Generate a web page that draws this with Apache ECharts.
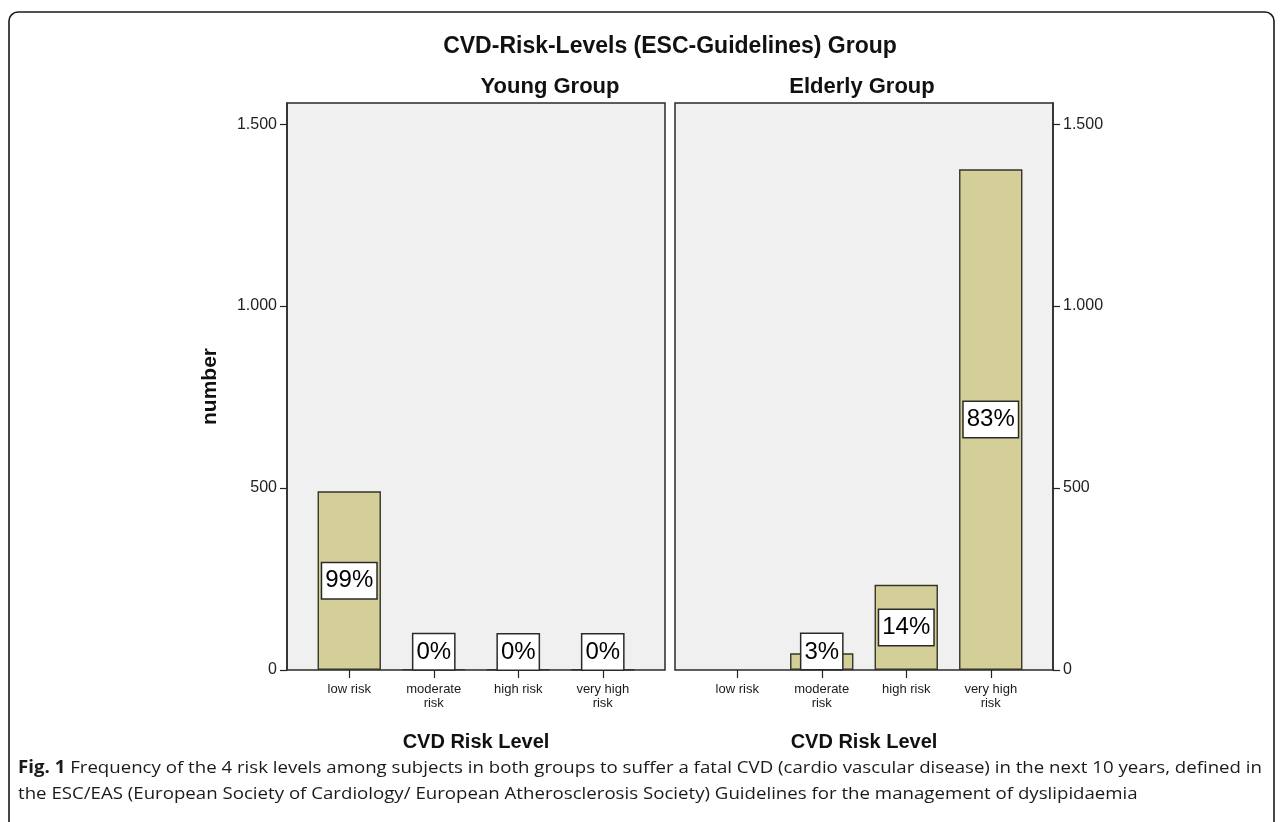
<!DOCTYPE html>
<html>
<head>
<meta charset="utf-8">
<style>
  html, body { margin: 0; padding: 0; background: #ffffff; }
  #chart { width: 1281px; height: 822px; }
</style>
<script src="https://cdn.jsdelivr.net/npm/echarts@6/dist/echarts.min.js"></script>
</head>
<body>
<div id="chart"></div>
<script>
// ---------- data ----------
const categories = ['low risk', 'moderate\nrisk', 'high risk', 'very high\nrisk'];
const youngValues = [491, 2, 1, 1];
const elderlyValues = [0, 46, 234, 1376];
const youngPct = ['99%', '0%', '0%', '0%'];
const elderlyPct = ['', '3%', '14%', '83%'];
const yTickValues = [0, 500, 1000, 1500];
const yMax = 1558;

const mainTitle = 'CVD-Risk-Levels (ESC-Guidelines) Group';
const panelTitles = ['Young Group', 'Elderly Group'];
const xAxisName = 'CVD Risk Level';
const yAxisName = 'number';
const captionBold = 'Fig. 1';
const captionLine1 = ' Frequency of the 4 risk levels among subjects in both groups to suffer a fatal CVD (cardio vascular disease) in the next 10 years, defined in';
const captionLine2 = 'the ESC/EAS (European Society of Cardiology/ European Atherosclerosis Society) Guidelines for the management of dyslipidaemia';

// ---------- style ----------
const FONT = '"Liberation Sans", Arial, sans-serif';
const CAPFONT = '"Open Sans", "Noto Sans", sans-serif';
const barFill = '#d4cf98';
const barStroke = '#35352a';
const panelBg = '#f0f0f0';
const ink = '#222222';

const fmtThousands = v => {
  const s = String(Math.round(v));
  return s.replace(/\B(?=(\d{3})+(?!\d))/g, '.');
};

function buildData(values, pcts) {
  return values.map((v, i) => ({
    value: v,
    itemStyle: v === 0 ? { borderWidth: 0, color: 'transparent' } : undefined,
    label: {
      show: pcts[i] !== '',
      formatter: pcts[i],
      position: v < 100 ? 'insideBottom' : 'inside',
      distance: 1
    }
  }));
}

const labelStyle = {
  fontFamily: FONT,
  fontSize: 24,
  color: '#000',
  backgroundColor: '#ffffff',
  borderColor: '#2a2a2a',
  borderWidth: 1.5,
  padding: [4, 3, 3, 3],
  lineHeight: 28
};

// panel geometry (layout only)
const panelTop = 103, panelH = 567, panelW = 378, inset = 20;
const panelLeft = [287, 675];

const grids = [];
const xAxes = [];
const yAxes = [];
const series = [];

[0, 1].forEach(p => {
  // background panel grid
  grids.push({
    left: panelLeft[p], top: panelTop, width: panelW, height: panelH,
    show: true, backgroundColor: panelBg, borderColor: '#2a2a2a', borderWidth: 1.5
  });
  xAxes.push({ gridIndex: grids.length - 1, type: 'category', data: categories, show: false });
  yAxes.push({ gridIndex: grids.length - 1, type: 'value', min: 0, max: yMax, show: false });

  // data grid (inset horizontally)
  grids.push({
    left: panelLeft[p] + inset, top: panelTop, width: panelW - 2 * inset, height: panelH,
    show: false
  });
  const gi = grids.length - 1;
  xAxes.push({
    gridIndex: gi, type: 'category', data: categories,
    axisLine: { show: false },
    axisTick: { show: true, alignWithLabel: true, length: 8, lineStyle: { color: ink, width: 1.2 } },
    axisLabel: { fontFamily: FONT, fontSize: 13, color: '#1a1a1a', lineHeight: 14, margin: 12, interval: 0 },
    name: xAxisName, nameLocation: 'middle', nameGap: 62,
    nameTextStyle: { fontFamily: FONT, fontSize: 20, fontWeight: 'bold', color: '#111' }
  });
  yAxes.push({
    gridIndex: gi, type: 'value', min: 0, max: yMax,
    position: p === 0 ? 'left' : 'right', offset: inset,
    axisLine: { show: true, lineStyle: { color: '#2a2a2a', width: 1.5 } },
    axisTick: { show: true, length: 7, customValues: yTickValues, lineStyle: { color: ink, width: 1.2 } },
    axisLabel: { customValues: yTickValues, formatter: fmtThousands, fontFamily: FONT, fontSize: 16, color: ink, margin: 10 },
    splitLine: { show: false },
    name: p === 0 ? yAxisName : '',
    nameLocation: 'middle', nameGap: 66, nameRotate: 90,
    nameTextStyle: { fontFamily: FONT, fontSize: 21, fontWeight: 'bold', color: '#111' }
  });

  series.push({
    type: 'bar',
    xAxisIndex: xAxes.length - 1,
    yAxisIndex: yAxes.length - 1,
    barWidth: '75%',
    itemStyle: { color: barFill, borderColor: barStroke, borderWidth: 1.4 },
    label: labelStyle,
    data: p === 0 ? buildData(youngValues, youngPct) : buildData(elderlyValues, elderlyPct),
    animation: false
  });
});

// caption scaling to fit the reference line width
function textWidth(text, font) {
  const c = document.createElement('canvas').getContext('2d');
  c.font = font;
  return c.measureText(text).width;
}
const capSize = 17;
const w1 = textWidth(captionBold, 'bold ' + capSize + 'px ' + CAPFONT) +
           textWidth(captionLine1, capSize + 'px ' + CAPFONT);
const capScale = 1244 / w1;

const chart = echarts.init(document.getElementById('chart'), null, { renderer: 'canvas' });
chart.setOption({
  animation: false,
  backgroundColor: '#ffffff',
  grid: grids,
  xAxis: xAxes,
  yAxis: yAxes,
  series: series,
  graphic: [
    {
      type: 'rect', silent: true,
      shape: { x: 9, y: 12, width: 1265, height: 830, r: 9 },
      style: { fill: 'none', stroke: '#1a1a1a', lineWidth: 1.6 }
    },
    {
      type: 'text', x: 670, y: 47, silent: true,
      style: { text: mainTitle, fontFamily: FONT, fontSize: 23, fontWeight: 'bold', fill: '#111', align: 'center', verticalAlign: 'middle' }
    },
    {
      type: 'text', x: 550, y: 87, silent: true,
      style: { text: panelTitles[0], fontFamily: FONT, fontSize: 22, fontWeight: 'bold', fill: '#111', align: 'center', verticalAlign: 'middle' }
    },
    {
      type: 'text', x: 862, y: 87, silent: true,
      style: { text: panelTitles[1], fontFamily: FONT, fontSize: 22, fontWeight: 'bold', fill: '#111', align: 'center', verticalAlign: 'middle' }
    },
    {
      type: 'text', x: 18, y: 768, scaleX: capScale, silent: true,
      style: {
        text: '{b|' + captionBold + '}' + captionLine1,
        fontFamily: CAPFONT, fontSize: capSize, fill: '#1a1a1a', verticalAlign: 'middle',
        rich: { b: { fontFamily: CAPFONT, fontSize: capSize, fontWeight: 'bold', fill: '#1a1a1a' } }
      }
    },
    {
      type: 'text', x: 18, y: 794, scaleX: capScale, silent: true,
      style: { text: captionLine2, fontFamily: CAPFONT, fontSize: capSize, fill: '#1a1a1a', verticalAlign: 'middle' }
    }
  ]
});
</script>
</body>
</html>
